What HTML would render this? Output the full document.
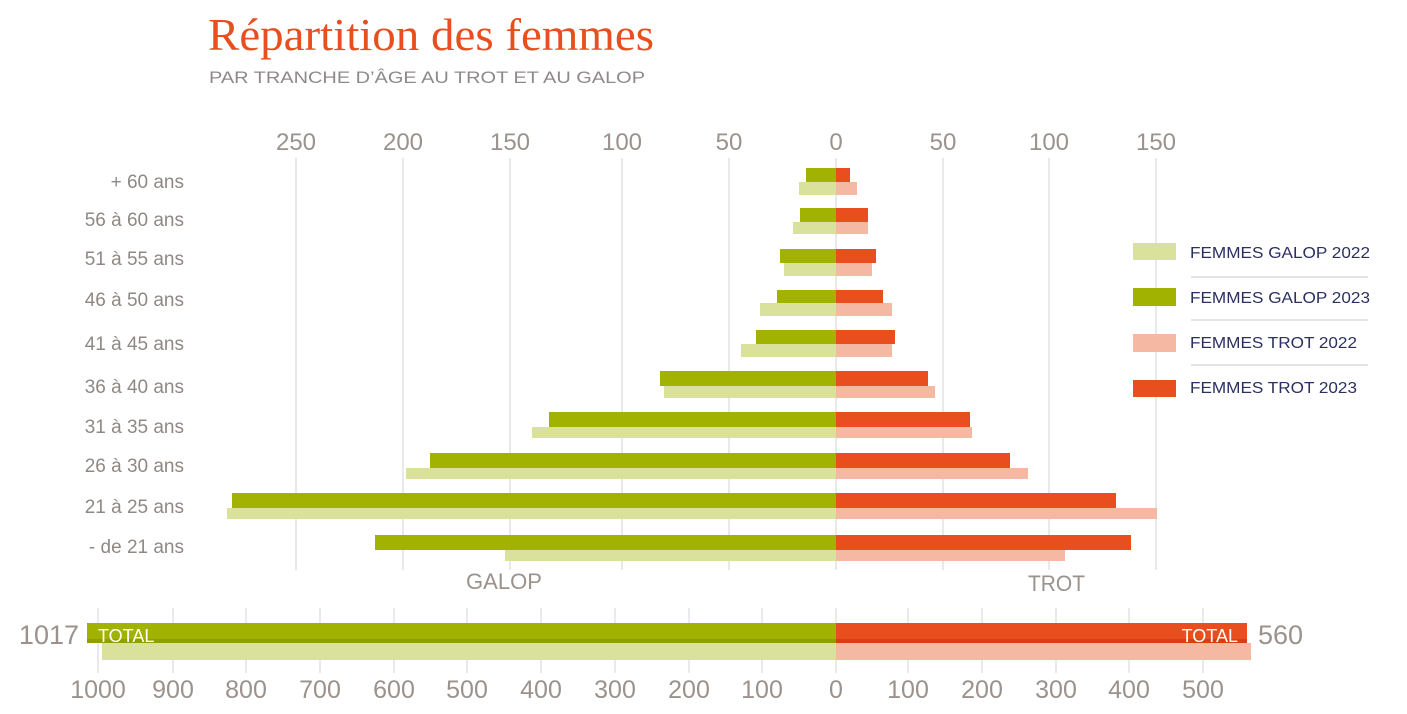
<!DOCTYPE html>
<html><head><meta charset="utf-8"><style>
body{margin:0;background:#fff;width:1407px;height:714px;overflow:hidden}
svg{display:block;font-family:"Liberation Sans",sans-serif}
</style></head><body>
<svg width="1407" height="714" viewBox="0 0 1407 714">
<text x="208" y="50" font-family="Liberation Serif, serif" font-size="46" fill="#e84e1e" textLength="446" lengthAdjust="spacingAndGlyphs">Répartition des femmes</text>
<text x="209" y="83" font-size="17" fill="#8f8a8a" textLength="436" lengthAdjust="spacingAndGlyphs">PAR TRANCHE D’ÂGE AU TROT ET AU GALOP</text>
<g stroke="#e4e2e2" stroke-width="1.5">
<line x1="296" y1="158" x2="296" y2="570"/><line x1="403" y1="158" x2="403" y2="570"/><line x1="510" y1="158" x2="510" y2="570"/><line x1="622" y1="158" x2="622" y2="570"/><line x1="729" y1="158" x2="729" y2="570"/><line x1="836" y1="158" x2="836" y2="570"/><line x1="943" y1="158" x2="943" y2="570"/><line x1="1049" y1="158" x2="1049" y2="570"/><line x1="1156" y1="158" x2="1156" y2="570"/>
</g>
<g font-size="24" fill="#9b928c" text-anchor="middle">
<text x="296" y="150">250</text><text x="403" y="150">200</text><text x="510" y="150">150</text><text x="622" y="150">100</text><text x="729" y="150">50</text><text x="836" y="150">0</text><text x="943" y="150">50</text><text x="1049" y="150">100</text><text x="1156" y="150">150</text>
</g>
<g font-size="19" fill="#8f8884" text-anchor="end">
<text x="184" y="188">+ 60 ans</text><text x="184" y="226">56 à 60 ans</text><text x="184" y="265">51 à 55 ans</text><text x="184" y="306">46 à 50 ans</text><text x="184" y="350">41 à 45 ans</text><text x="184" y="393">36 à 40 ans</text><text x="184" y="433">31 à 35 ans</text><text x="184" y="472">26 à 30 ans</text><text x="184" y="513">21 à 25 ans</text><text x="184" y="553">- de 21 ans</text>
</g>
<g>
<g fill="#d9e19b">
<rect x="799" y="182" width="37" height="13"/><rect x="793" y="222" width="43" height="12"/><rect x="784" y="263" width="52" height="13"/><rect x="760" y="303" width="76" height="13"/><rect x="741" y="344" width="95" height="13"/><rect x="664" y="386" width="172" height="12"/><rect x="532" y="427" width="304" height="11"/><rect x="406" y="468" width="430" height="11"/><rect x="227" y="508" width="609" height="11"/><rect x="505" y="550" width="331" height="11"/>
</g>
<g fill="#f5b8a2">
<rect x="836" y="182" width="21" height="13"/><rect x="836" y="222" width="32" height="12"/><rect x="836" y="263" width="36" height="13"/><rect x="836" y="303" width="56" height="13"/><rect x="836" y="344" width="56" height="13"/><rect x="836" y="386" width="99" height="12"/><rect x="836" y="427" width="136" height="11"/><rect x="836" y="468" width="192" height="11"/><rect x="836" y="508" width="321" height="11"/><rect x="836" y="550" width="229" height="11"/>
</g>
<g fill="#a2b200">
<rect x="806" y="168" width="30" height="14"/><rect x="800" y="208" width="36" height="14"/><rect x="780" y="249" width="56" height="14"/><rect x="777" y="290" width="59" height="13"/><rect x="756" y="330" width="80" height="14"/><rect x="660" y="371" width="176" height="15"/><rect x="549" y="412" width="287" height="15"/><rect x="430" y="453" width="406" height="15"/><rect x="232" y="493" width="604" height="15"/><rect x="375" y="535" width="461" height="15"/>
</g>
<g fill="#e84e1e">
<rect x="836" y="168" width="14" height="14"/><rect x="836" y="208" width="32" height="14"/><rect x="836" y="249" width="40" height="14"/><rect x="836" y="290" width="47" height="13"/><rect x="836" y="330" width="59" height="14"/><rect x="836" y="371" width="92" height="15"/><rect x="836" y="412" width="134" height="15"/><rect x="836" y="453" width="174" height="15"/><rect x="836" y="493" width="280" height="15"/><rect x="836" y="535" width="295" height="15"/>
</g>
</g>
<text x="466" y="589" font-size="22" fill="#9b928c" textLength="76" lengthAdjust="spacingAndGlyphs">GALOP</text>
<text x="1028" y="591" font-size="22" fill="#9b928c" textLength="57" lengthAdjust="spacingAndGlyphs">TROT</text>
<rect x="1133" y="243" width="43" height="17" fill="#d9e19b"/>
<rect x="1133" y="288" width="43" height="18" fill="#a2b200"/>
<rect x="1133" y="334" width="43" height="18" fill="#f5b8a2"/>
<rect x="1133" y="380" width="43" height="17" fill="#e84e1e"/>
<g stroke="#dcdcdc" stroke-width="1.5"><line x1="1191" y1="277" x2="1368" y2="277"/><line x1="1191" y1="320" x2="1368" y2="320"/><line x1="1191" y1="365" x2="1368" y2="365"/></g>
<g font-size="16" fill="#2b3060">
<text x="1190" y="258" textLength="180" lengthAdjust="spacingAndGlyphs">FEMMES GALOP 2022</text><text x="1190" y="303" textLength="180" lengthAdjust="spacingAndGlyphs">FEMMES GALOP 2023</text><text x="1190" y="348" textLength="167" lengthAdjust="spacingAndGlyphs">FEMMES TROT 2022</text><text x="1190" y="393" textLength="167" lengthAdjust="spacingAndGlyphs">FEMMES TROT 2023</text>
</g>
<g stroke="#e4e2e2" stroke-width="1.5">
<line x1="98" y1="608" x2="98" y2="673"/><line x1="173" y1="608" x2="173" y2="673"/><line x1="246" y1="608" x2="246" y2="673"/><line x1="320" y1="608" x2="320" y2="673"/><line x1="394" y1="608" x2="394" y2="673"/><line x1="467" y1="608" x2="467" y2="673"/><line x1="541" y1="608" x2="541" y2="673"/><line x1="615" y1="608" x2="615" y2="673"/><line x1="689" y1="608" x2="689" y2="673"/><line x1="762" y1="608" x2="762" y2="673"/><line x1="836" y1="608" x2="836" y2="673"/><line x1="908" y1="608" x2="908" y2="673"/><line x1="982" y1="608" x2="982" y2="673"/><line x1="1056" y1="608" x2="1056" y2="673"/><line x1="1129" y1="608" x2="1129" y2="673"/><line x1="1203" y1="608" x2="1203" y2="673"/>
</g>
<rect x="102" y="643" width="734" height="17" fill="#d9e19b"/>
<rect x="836" y="643" width="415" height="17" fill="#f5b8a2"/>
<rect x="87" y="623" width="749" height="20" fill="#a2b200"/>
<rect x="87" y="639" width="749" height="4" fill="#8f9e00"/>
<rect x="836" y="623" width="411" height="20" fill="#e84e1e"/>
<rect x="836" y="639" width="411" height="4" fill="#d63f12"/>
<text x="98" y="642" font-size="18" fill="#fff">TOTAL</text>
<text x="1238" y="642" font-size="18" fill="#fff" text-anchor="end">TOTAL</text>
<text x="79" y="644" font-size="27" fill="#9b928c" text-anchor="end">1017</text>
<text x="1258" y="644" font-size="27" fill="#9b928c">560</text>
<g font-size="25" fill="#9b928c" text-anchor="middle">
<text x="98" y="698">1000</text><text x="173" y="698">900</text><text x="246" y="698">800</text><text x="320" y="698">700</text><text x="394" y="698">600</text><text x="467" y="698">500</text><text x="541" y="698">400</text><text x="615" y="698">300</text><text x="689" y="698">200</text><text x="762" y="698">100</text><text x="836" y="698">0</text><text x="908" y="698">100</text><text x="982" y="698">200</text><text x="1056" y="698">300</text><text x="1129" y="698">400</text><text x="1203" y="698">500</text>
</g>
</svg>
</body></html>
